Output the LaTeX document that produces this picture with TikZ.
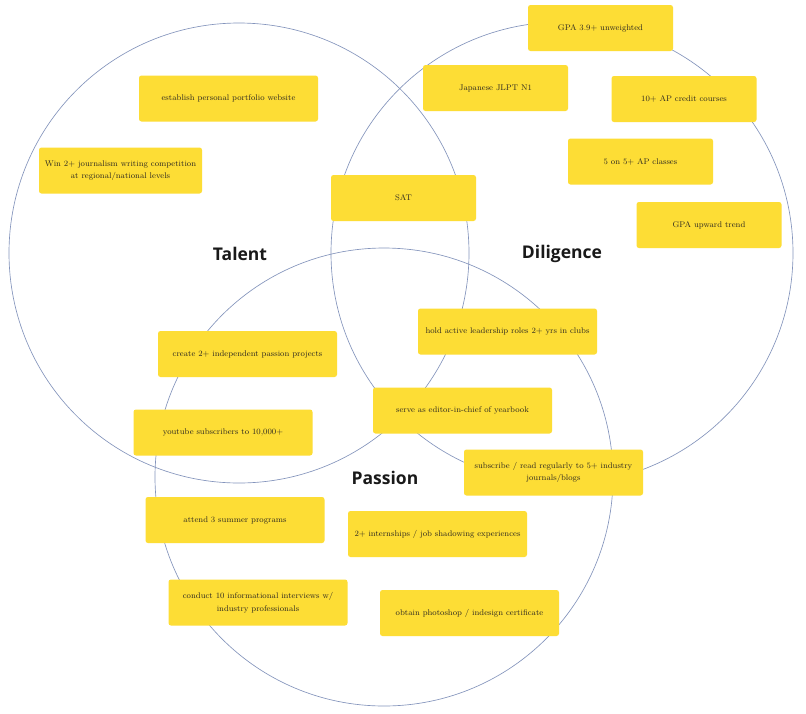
\documentclass[tikz,border=0pt]{standalone}
\usepackage{fontspec}
\newfontfamily\labelfont{Open Sans}
\definecolor{boxfill}{HTML}{FDDD35}
\definecolor{ring}{HTML}{8494BC}
\definecolor{txt}{HTML}{2F2A20}
\begin{document}
\begin{tikzpicture}[x=1pt,y=-1pt,
  ringstyle/.style={draw=ring,line width=0.65pt},
  box/.style={fill=boxfill,rounded corners=2.5pt,inner sep=0pt,align=center,
    minimum height=46pt,text=txt,font=\fontsize{8.2}{12.6}\selectfont},
  w1/.style={box,minimum width=179pt},
  w2/.style={box,minimum width=145pt},
  title/.style={font=\labelfont\bfseries\fontsize{17.5}{20}\selectfont,text=black!90}]
\useasboundingbox[fill=white] (0,0) rectangle (806,713);
% circles
\draw[ringstyle] (239,253) circle (230);
\draw[ringstyle] (562,253) circle (231);
\draw[ringstyle] (384,477) circle (229);
% titles
\node[title] (talent) at (240,254) {Talent};
\node[title] (diligence) at (562,254) {Diligence};
\node[title] (passion) at (385,478) {Passion};
% boxes
\node[w1] (b1) at (228.5,98.5) {establish personal portfolio website};
\node[box,minimum width=163pt] (b2) at (120.5,170.5) {Win 2+ journalism writing competition\\at regional/national levels};
\node[w2] (b3) at (403.5,198) {SAT};
\node[w2] (b4) at (600.5,28) {GPA 3.9+ unweighted};
\node[w2] (b5) at (495.5,88) {Japanese JLPT N1};
\node[w2] (b6) at (684,99) {10+ AP credit courses};
\node[w2] (b7) at (640.5,161.5) {5 on 5+ AP classes};
\node[w2] (b8) at (709,225) {GPA upward trend};
\node[w1] (b9) at (507.5,331.5) {hold active leadership roles 2+ yrs in clubs};
\node[w1] (b10) at (247.5,354) {create 2+ independent passion projects};
\node[w1] (b11) at (223,432.5) {youtube subscribers to 10,000+};
\node[w1] (b12) at (462.5,410.5) {serve as editor-in-chief of yearbook};
\node[w1] (b13) at (553.5,472.5) {subscribe / read regularly to 5+ industry\\journals/blogs};
\node[w1] (b14) at (235,520) {attend 3 summer programs};
\node[w1] (b15) at (437.5,534) {2+ internships / job shadowing experiences};
\node[w1] (b16) at (258,602.5) {conduct 10 informational interviews w/\\industry professionals};
\node[w1] (b17) at (469.5,613) {obtain photoshop / indesign certificate};
\end{tikzpicture}
\end{document}
